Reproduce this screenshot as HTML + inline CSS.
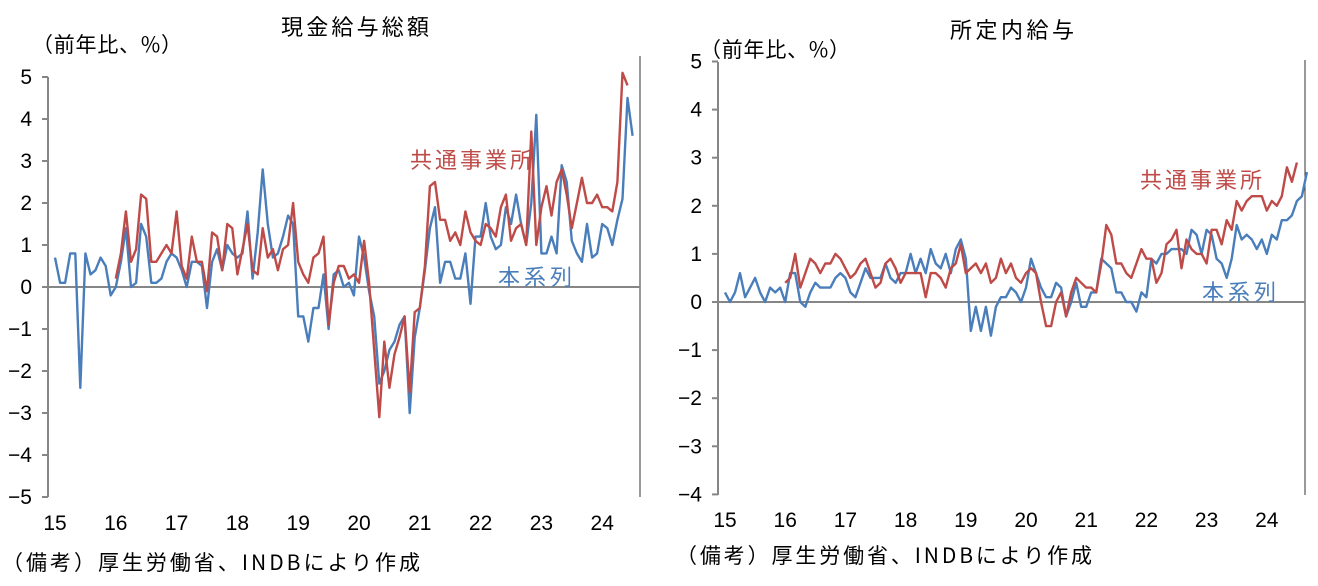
<!DOCTYPE html>
<html><head><meta charset="utf-8">
<style>
html,body{margin:0;padding:0;background:#fff;}
svg{display:block;font-family:"Liberation Sans","Noto Sans CJK JP",sans-serif;}
.j{font-family:"Noto Sans CJK JP","Liberation Sans",sans-serif;}
</style></head>
<body>
<svg id="s" width="1318" height="586" viewBox="0 0 1318 586" xmlns="http://www.w3.org/2000/svg">
<rect width="1318" height="586" fill="#fff"/>
<text class="j" x="355" y="35" font-size="22" text-anchor="middle" fill="#000" textLength="148">現金給与総額</text>
<text class="j" x="32" y="52" font-size="21" fill="#000" textLength="150">（前年比、%）</text>
<text class="j" x="1012" y="38" font-size="22" text-anchor="middle" fill="#000" textLength="124">所定内給与</text>
<text class="j" x="700" y="57" font-size="21" fill="#000" textLength="150">（前年比、%）</text>
<text class="j" x="2" y="570" font-size="21" fill="#000" textLength="418">（備考）厚生労働省、INDBにより作成</text>
<text class="j" x="676" y="563" font-size="21" fill="#000" textLength="416">（備考）厚生労働省、INDBにより作成</text>
<line x1="640" y1="56" x2="640" y2="497" stroke="#333" stroke-width="1"/>
<line x1="1305" y1="60" x2="1305" y2="495" stroke="#333" stroke-width="1"/>
<g id="g"></g>
<text class="j" x="410" y="168" font-size="22" fill="#be4b48" textLength="122">共通事業所</text>
<text class="j" x="498" y="285" font-size="22" fill="#4a7ebb" textLength="74">本系列</text>
<text class="j" x="1140" y="188" font-size="22" fill="#be4b48" textLength="122">共通事業所</text>
<text class="j" x="1202" y="300" font-size="22" fill="#4a7ebb" textLength="74">本系列</text>
</svg>
<script>
var g=document.getElementById('g'),h='';
function ln(x1,y1,x2,y2,c,w){h+='<line x1="'+x1+'" y1="'+y1+'" x2="'+x2+'" y2="'+y2+'" stroke="'+c+'" stroke-width="'+w+'"/>';}
function tx(x,y,t,a){h+='<text x="'+x+'" y="'+y+'" font-size="21" text-anchor="'+a+'" fill="#000">'+t+'</text>';}
function chart(o){
  var zero=o.zero,u=o.u;
  ln(o.ax,o.yTop,o.ax,o.yBot,'#868686',2);
  for(var v=o.min;v<=o.max;v++){var y=zero-v*u;ln(o.ax-6,y,o.ax,y,'#868686',2);tx(o.ax-16,y+7,v<0?'−'+(-v):v,'end');}
  ln(o.ax,zero,o.x1,zero,'#868686',2);
  for(var k=0;k<10;k++){var x=o.x0+k*o.yr;tx(x,o.ly,15+k,'middle');}
  function pl(arr,start,c){var p=[];for(var i=0;i<arr.length;i++){p.push((o.x0+(start+i)*o.yr/12).toFixed(1)+','+(zero-arr[i]*u).toFixed(1));}
   h+='<polyline points="'+p.join(' ')+'" fill="none" stroke="'+c+'" stroke-width="2.4" stroke-linejoin="round"/>';}
  pl(o.b,0,'#4a7ebb');pl(o.r,12,'#be4b48');
}
chart({ax:48,x1:640,yTop:77,yBot:497,zero:287,u:42,min:-5,max:5,x0:55,yr:60.8,ly:530,
b:[0.7,0.1,0.1,0.8,0.8,-2.4,0.8,0.3,0.4,0.7,0.5,-0.2,
0.0,0.6,1.4,0.0,0.1,1.5,1.2,0.1,0.1,0.2,0.6,0.8,
0.7,0.4,0.0,0.6,0.6,0.5,-0.5,0.6,0.9,0.4,1.0,0.8,
0.7,0.8,1.8,0.2,1.3,2.8,1.5,0.7,0.8,1.2,1.7,1.5,
-0.7,-0.7,-1.3,-0.5,-0.5,0.3,-1.0,0.3,0.4,0.0,0.1,-0.2,
1.2,0.7,-0.1,-0.7,-2.3,-2.0,-1.5,-1.3,-0.9,-0.7,-3.0,-1.2,
-0.5,0.4,1.4,1.9,0.1,0.6,0.6,0.2,0.2,0.8,-0.4,1.2,
1.2,2.0,1.2,0.9,1.0,1.9,1.5,2.2,1.5,1.0,2.0,4.1,
0.8,0.8,1.2,0.8,2.9,2.5,1.1,0.8,0.6,1.5,0.7,0.8,
1.5,1.4,1.0,1.6,2.1,4.5,3.6],
r:[0.2,0.8,1.8,0.6,0.9,2.2,2.1,0.6,0.6,0.8,1.0,0.8,
1.8,0.5,0.2,1.2,0.6,0.6,-0.1,1.3,1.2,0.4,1.5,1.4,
0.3,0.9,1.5,0.4,0.3,1.4,0.7,0.9,0.4,0.9,1.0,2.0,
0.6,0.3,0.1,0.7,0.8,1.2,-0.9,0.1,0.5,0.5,0.2,0.3,
0.1,1.1,0.1,-1.5,-3.1,-1.3,-2.4,-1.6,-1.2,-0.7,-2.5,-0.6,
-0.5,0.5,2.4,2.5,1.6,1.6,1.1,1.3,1.0,1.8,1.3,1.1,
1.0,1.5,1.4,1.2,1.9,2.2,1.1,1.4,1.5,1.0,3.7,1.0,
1.9,2.4,1.7,2.5,2.8,2.2,1.4,2.0,2.6,2.0,2.0,2.2,
1.9,1.9,1.8,2.5,5.1,4.8]});
chart({ax:718,x1:1305,yTop:62,yBot:495,zero:302,u:48.1,min:-4,max:5,x0:725,yr:60.2,ly:527,
b:[0.2,0.0,0.2,0.6,0.1,0.3,0.5,0.2,0.0,0.3,0.2,0.3,
0.0,0.6,0.6,0.0,-0.1,0.2,0.4,0.3,0.3,0.3,0.5,0.6,
0.5,0.2,0.1,0.4,0.7,0.5,0.5,0.5,0.8,0.5,0.4,0.6,
0.6,1.0,0.6,0.9,0.6,1.1,0.8,0.7,1.0,0.6,1.1,1.3,
0.9,-0.6,-0.1,-0.6,-0.1,-0.7,-0.1,0.1,0.1,0.3,0.2,0.0,
0.3,0.9,0.6,0.3,0.1,0.1,0.4,0.3,-0.3,0.0,0.4,-0.1,
-0.1,0.2,0.2,0.9,0.8,0.7,0.2,0.2,0.0,0.0,-0.2,0.2,
0.1,0.9,0.8,1.0,1.0,1.1,1.1,1.1,1.0,1.5,1.4,1.0,
1.5,1.4,0.9,0.8,0.5,0.9,1.6,1.3,1.4,1.3,1.1,1.3,
1.0,1.4,1.3,1.7,1.7,1.8,2.1,2.2,2.7],
r:[0.4,0.5,1.0,0.3,0.6,0.9,0.8,0.6,0.8,0.8,1.0,0.9,
0.7,0.5,0.6,0.8,0.9,0.6,0.3,0.4,0.8,0.9,0.7,0.4,
0.6,0.6,0.6,0.6,0.1,0.6,0.6,0.5,0.3,0.7,0.8,1.2,
0.6,0.7,0.8,0.6,0.8,0.4,0.5,0.9,0.6,0.8,0.5,0.4,
0.6,0.7,0.6,0.0,-0.5,-0.5,0.0,0.2,-0.3,0.2,0.5,0.4,
0.3,0.3,0.2,0.8,1.6,1.4,0.8,0.8,0.6,0.5,0.8,1.1,
0.9,0.9,0.4,0.6,1.2,1.3,1.5,0.7,1.3,1.1,1.0,1.0,
0.8,1.5,1.5,1.2,1.7,1.5,2.1,1.9,2.1,2.2,2.2,2.2,
1.9,2.1,2.0,2.2,2.8,2.5,2.9]});
g.innerHTML=h;
</script>
</body></html>
